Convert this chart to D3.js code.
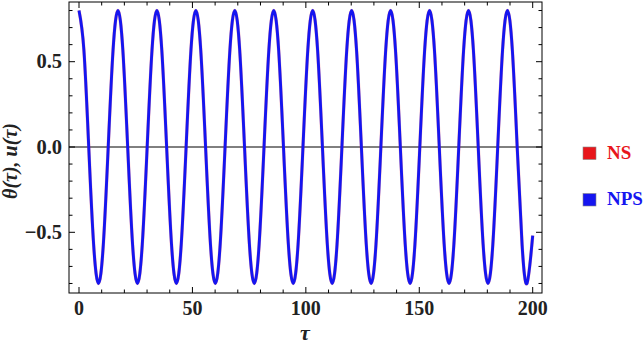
<!DOCTYPE html>
<html>
<head>
<meta charset="utf-8">
<script src="https://cdn.jsdelivr.net/npm/d3@7"></script>
<style>
  body { margin: 0; background: #fff; }
  svg { display: block; }
</style>
</head>
<body>
<svg id="chart" width="644" height="346"></svg>
<script>
// tau sample points (at 1/8 period steps)
const tau = [
  0, 2.15, 4.29, 6.44, 8.59, 10.73, 12.88, 15.02,
  17.17, 19.32, 21.46, 23.61, 25.76, 27.90, 30.05, 32.19,
  34.34, 36.49, 38.63, 40.78, 42.93, 45.07, 47.22, 49.36,
  51.51, 53.66, 55.80, 57.95, 60.10, 62.24, 64.39, 66.53,
  68.68, 70.83, 72.97, 75.12, 77.27, 79.41, 81.56, 83.70,
  85.85, 88.00, 90.14, 92.29, 94.44, 96.58, 98.73, 100.87,
  103.02, 105.17, 107.31, 109.46, 111.61, 113.75, 115.90, 118.04,
  120.19, 122.34, 124.48, 126.63, 128.78, 130.92, 133.07, 135.21,
  137.36, 139.51, 141.65, 143.80, 145.95, 148.09, 150.24, 152.38,
  154.53, 156.68, 158.82, 160.97, 163.12, 165.26, 167.41, 169.55,
  171.70, 173.85, 175.99, 178.14, 180.29, 182.43, 184.58, 186.72,
  188.87, 191.02, 193.16, 195.31, 197.46, 200
];

// NS curve values theta(tau)
const nsValues = [
  0.8, 0.57, 0, -0.57, -0.8, -0.57, 0, 0.57,
  0.8, 0.57, 0, -0.57, -0.8, -0.57, 0, 0.57,
  0.8, 0.57, 0, -0.57, -0.8, -0.57, 0, 0.57,
  0.8, 0.57, 0, -0.57, -0.8, -0.57, 0, 0.57,
  0.8, 0.57, 0, -0.57, -0.8, -0.57, 0, 0.57,
  0.8, 0.57, 0, -0.57, -0.8, -0.57, 0, 0.57,
  0.8, 0.57, 0, -0.57, -0.8, -0.57, 0, 0.57,
  0.8, 0.57, 0, -0.57, -0.8, -0.57, 0, 0.57,
  0.8, 0.57, 0, -0.57, -0.8, -0.57, 0, 0.57,
  0.8, 0.57, 0, -0.57, -0.8, -0.57, 0, 0.57,
  0.8, 0.57, 0, -0.57, -0.8, -0.57, 0, 0.57,
  0.8, 0.57, 0, -0.57, -0.8, -0.52
];
// NPS curve u(tau) sits right on top of NS in the picture
const npsValues = nsValues.slice();

const series = ["NS", "NPS"];
const seriesColors = ["#e8161b", "#1515f0"];
const xTicks = [0, 50, 100, 150, 200];
const yTicks = [-0.5, 0, 0.5];

const serif = "Liberation Serif";

const svg = d3.select("#chart")
  .attr("font-family", serif)
  .attr("font-weight", "bold");
const pLeft = 69, pRight = 542, pTop = 2, pBottom = 293;

const x = d3.scaleLinear().domain([0, 200]).range([79, 532.7]);
const y = d3.scaleLinear().domain([0, 0.5]).range([147, 61.7]);

// frame
svg.append("rect")
  .attr("x", pLeft).attr("y", pTop)
  .attr("width", pRight - pLeft).attr("height", pBottom - pTop)
  .attr("fill", "none").attr("stroke", "#000").attr("stroke-width", 1);

// ticks: major + minor, all four sides, pointing in
const xMinor = d3.range(0, 201, 10);
const yMinor = d3.range(-8, 9).map(d => d / 10);
const tickG = svg.append("g").attr("stroke", "#000").attr("stroke-width", 1);

xMinor.forEach(t => {
  const len = xTicks.includes(t) ? 6 : 3.5;
  tickG.append("line").attr("x1", x(t)).attr("x2", x(t)).attr("y1", pBottom).attr("y2", pBottom - len);
  tickG.append("line").attr("x1", x(t)).attr("x2", x(t)).attr("y1", pTop).attr("y2", pTop + len);
});
yMinor.forEach(v => {
  const major = yTicks.some(t => Math.abs(t - v) < 1e-9);
  const len = major ? 6 : 3.5;
  tickG.append("line").attr("x1", pLeft).attr("x2", pLeft + len).attr("y1", y(v)).attr("y2", y(v));
  tickG.append("line").attr("x1", pRight).attr("x2", pRight - len).attr("y1", y(v)).attr("y2", y(v));
});

// tick labels
svg.append("g").selectAll("text")
  .data(xTicks).join("text")
  .attr("x", d => x(d)).attr("y", 315)
  .attr("text-anchor", "middle")
  .attr("font-size", 20)
  .attr("fill", "#222")
  .text(d => d);

svg.append("g").selectAll("text")
  .data(yTicks).join("text")
  .attr("x", 62).attr("y", d => y(d) + 6.5)
  .attr("text-anchor", "end")
  .attr("font-size", 20.5)
  .attr("fill", "#222")
  .text(d => d3.format(".1f")(d).replace("-", "\u2212"));

// zero line
svg.append("line")
  .attr("x1", pLeft).attr("x2", pRight)
  .attr("y1", y(0)).attr("y2", y(0))
  .attr("stroke", "#000").attr("stroke-width", 1);

// curves
const line = d3.line()
  .x(d => x(d[0]))
  .y(d => y(d[1]))
  .curve(d3.curveNatural);

svg.append("path")
  .datum(tau.map((t, i) => [t, nsValues[i]]))
  .attr("d", line)
  .attr("fill", "none")
  .attr("stroke", seriesColors[0])
  .attr("stroke-opacity", 0.35)
  .attr("stroke-width", 3.4);

svg.append("path")
  .datum(tau.map((t, i) => [t, npsValues[i]]))
  .attr("d", line)
  .attr("fill", "none")
  .attr("stroke", seriesColors[1])
  .attr("stroke-width", 2.9);

// axis labels
svg.append("text")
  .attr("x", 305).attr("y", 340)
  .attr("text-anchor", "middle")
  .attr("font-size", 22)
  .attr("font-style", "italic")
  .attr("fill", "#222")
  .text("\u03c4");

svg.append("text")
  .attr("transform", "translate(17,161) rotate(-90)")
  .attr("text-anchor", "middle")
  .attr("font-size", 20)
  .attr("font-style", "italic")
  .attr("fill", "#222")
  .text("\u03b8(\u03c4), u(\u03c4)");

// legend
const legend = svg.append("g").selectAll("g")
  .data(series).join("g")
  .attr("transform", (d, i) => `translate(583, ${147 + i * 46.5})`);

legend.append("rect")
  .attr("width", 13).attr("height", 12.5)
  .attr("fill", (d, i) => seriesColors[i])
  .attr("stroke", "#888").attr("stroke-width", 0.6);

legend.append("text")
  .attr("x", 24).attr("y", 11.5)
  .attr("font-size", 19)
  .attr("fill", (d, i) => seriesColors[i])
  .text(d => d);
</script>
</body>
</html>
